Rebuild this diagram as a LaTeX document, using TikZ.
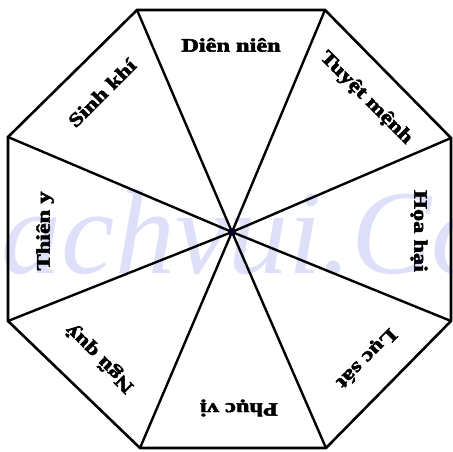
\documentclass[tikz,border=0pt]{standalone}
\usepackage{fontspec}
\setmainfont{Liberation Serif}
\newfontface\heavyfont{Liberation Serif Bold}[FakeBold=2.5]
\definecolor{wmark}{RGB}{222,224,250}
\definecolor{hub}{RGB}{0,0,40}
\begin{document}
\begin{tikzpicture}[x=1pt,y=-1pt,
  lbl/.style={inner sep=0pt,font=\heavyfont\fontsize{19}{19}\selectfont},
  edge/.style={line width=2.6pt,line join=miter},
  spoke/.style={line width=2.4pt}]
\useasboundingbox (0,0) rectangle (453,451);
\begin{scope}
\clip (0,0) rectangle (453,451);
\node[anchor=base west,inner sep=0pt,text=wmark,font=\itshape\fontsize{120}{120}\selectfont] (wm) at (-125,273) {Thachvui.Com};
\end{scope}
\coordinate (A) at (137,10);
\coordinate (B) at (325,10);
\coordinate (C) at (451,138);
\coordinate (D) at (451,321);
\coordinate (E) at (326,448);
\coordinate (F) at (140,448);
\coordinate (G) at (8,321);
\coordinate (H) at (8,137);
\coordinate (O) at (232,232);
\draw[edge] (A) -- (B) -- (C) -- (D) -- (E) -- (F) -- (G) -- (H) -- cycle;
\foreach \v in {A,B,C,D,E,F,G,H} \draw[spoke] (O) -- (\v);
\fill[hub] (O) circle (4pt);
\node[lbl] (l1) at (231,45) {\scalebox{1.28}[1]{Diên niên}};
\node[lbl,rotate=-45] (l2) at (366,98) {\scalebox{1.28}[1]{Tuyệt mệnh}};
\node[lbl,rotate=-90] (l3) at (419,231) {\scalebox{1.28}[1]{Họa hại}};
\node[lbl,rotate=-135] (l4) at (366,358) {\scalebox{1.28}[1]{Lục sát}};
\node[lbl,rotate=180] (l5) at (239,408) {\scalebox{1.28}[1]{Phục vị}};
\node[lbl,rotate=135] (l6) at (100,358) {\scalebox{1.28}[1]{Ngũ quỷ}};
\node[lbl,rotate=90] (l7) at (45,231) {\scalebox{1.28}[1]{Thiên y}};
\node[lbl,rotate=45] (l8) at (102,93) {\scalebox{1.28}[1]{Sinh khí}};
\end{tikzpicture}
\end{document}
